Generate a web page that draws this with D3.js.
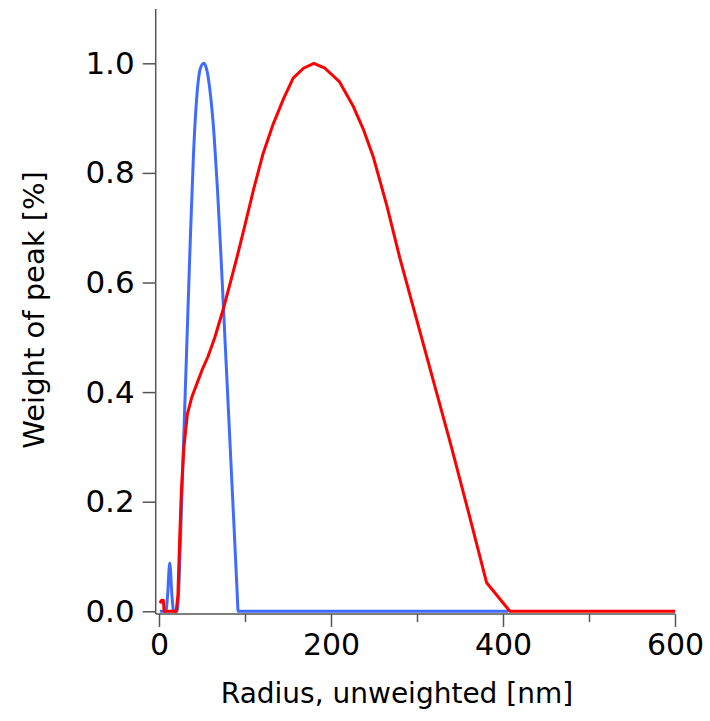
<!DOCTYPE html>
<html>
<head>
<meta charset="utf-8">
<script src="https://cdn.jsdelivr.net/npm/d3@7"></script>
<style>
  html, body { margin: 0; padding: 0; background: #fff; }
  svg { display: block; }
  text { font-family: "DejaVu Sans", sans-serif; fill: #000; }
</style>
</head>
<body>
<svg id="chart" width="710" height="721"></svg>
<script>
// ---- data ----
const xTicksMajor = [0, 200, 400, 600];
const xTicksMinor = [100, 300, 500];
const yTicks = [0, 0.2, 0.4, 0.6, 0.8, 1.0];

const blueX = [1, 8, 10, 12.5, 15, 17, 21, 23, 25, 28, 32, 36, 40, 44, 48, 52, 56, 60, 64, 68, 72, 76, 80, 84, 88, 91, 92, 406];
const blueY = [0, 0, 0.03, 0.088, 0.03, 0, 0, 0.04, 0.13, 0.28, 0.47, 0.66, 0.83, 0.94, 0.99, 1.0, 0.985, 0.94, 0.87, 0.77, 0.65, 0.52, 0.39, 0.26, 0.13, 0.03, 0, 0];

const redX = [1, 3, 5, 6, 20, 22, 24, 26, 29, 33, 38, 44, 50, 57, 65, 75, 83, 91, 100, 110, 121, 133, 145, 156, 168, 180, 193, 210, 226, 238, 249, 265, 280, 300, 320, 340, 360, 381, 408, 600];
const redY = [0.015, 0.02, 0.02, 0, 0, 0.03, 0.13, 0.22, 0.30, 0.36, 0.39, 0.415, 0.44, 0.465, 0.50, 0.553, 0.60, 0.648, 0.705, 0.77, 0.835, 0.89, 0.936, 0.973, 0.991, 1.0, 0.991, 0.966, 0.921, 0.878, 0.83, 0.74, 0.645, 0.53, 0.415, 0.30, 0.18, 0.052, 0, 0];

const xLabel = "Radius, unweighted [nm]";
const yLabel = "Weight of peak [%]";

// ---- layout ----
const svg = d3.select("#chart");
const x = d3.scaleLinear().domain([0, 600]).range([159, 675]);
const y = d3.scaleLinear().domain([0, 1.1]).range([611.3, 8.5]);
const axisColor = "#555";
const xAxisY = 614;
const yAxisX = 155.7;

const gx = svg.append("g").attr("transform", `translate(0,${xAxisY})`);
gx.call(d3.axisBottom(x).tickValues(xTicksMajor).tickSize(13).tickSizeOuter(0).tickPadding(7).tickFormat(d3.format("d")));
gx.append("g").call(d3.axisBottom(x).tickValues(xTicksMinor).tickSize(8).tickSizeOuter(0).tickFormat(""));
gx.selectAll(".domain").remove();
gx.selectAll("line").attr("stroke", axisColor).attr("stroke-width", 1.5);
gx.selectAll("text").attr("font-size", 30).attr("font-family", "DejaVu Sans").attr("fill", "#000");
gx.append("line").attr("x1", yAxisX).attr("x2", x(600)).attr("y1", 0).attr("y2", 0)
  .attr("stroke", axisColor).attr("stroke-width", 1.5);

const gy = svg.append("g").attr("transform", `translate(${yAxisX},0)`);
gy.call(d3.axisLeft(y).tickValues(yTicks).tickSize(13).tickSizeOuter(0).tickPadding(8).tickFormat(d3.format(".1f")));
gy.selectAll(".domain").remove();
gy.selectAll("line").attr("stroke", axisColor).attr("stroke-width", 1.5);
gy.selectAll("text").attr("font-size", 31).attr("font-family", "DejaVu Sans").attr("fill", "#000");
gy.append("line").attr("x1", 0).attr("x2", 0).attr("y1", 9).attr("y2", xAxisY)
  .attr("stroke", axisColor).attr("stroke-width", 1.5);

// axis titles
svg.append("text").attr("x", 397).attr("y", 703).attr("text-anchor", "middle")
  .attr("font-size", 28).text(xLabel);
svg.append("text").attr("transform", `translate(44,${y(0.55)}) rotate(-90)`)
  .attr("text-anchor", "middle").attr("font-size", 29).text(yLabel);

// series
const blue = blueX.map((v, i) => [v, blueY[i]]);
const red = redX.map((v, i) => [v, redY[i]]);

svg.append("path").datum(blue)
  .attr("d", d3.line().x(d => x(d[0])).y(d => y(d[1])).curve(d3.curveMonotoneX))
  .attr("fill", "none").attr("stroke", "#3f6cff").attr("stroke-width", 3).attr("stroke-linejoin", "round");
svg.append("path").datum(red)
  .attr("d", d3.line().x(d => x(d[0])).y(d => y(d[1])).curve(d3.curveLinear))
  .attr("fill", "none").attr("stroke", "#ff0000").attr("stroke-width", 3).attr("stroke-linejoin", "round");
</script>
</body>
</html>
